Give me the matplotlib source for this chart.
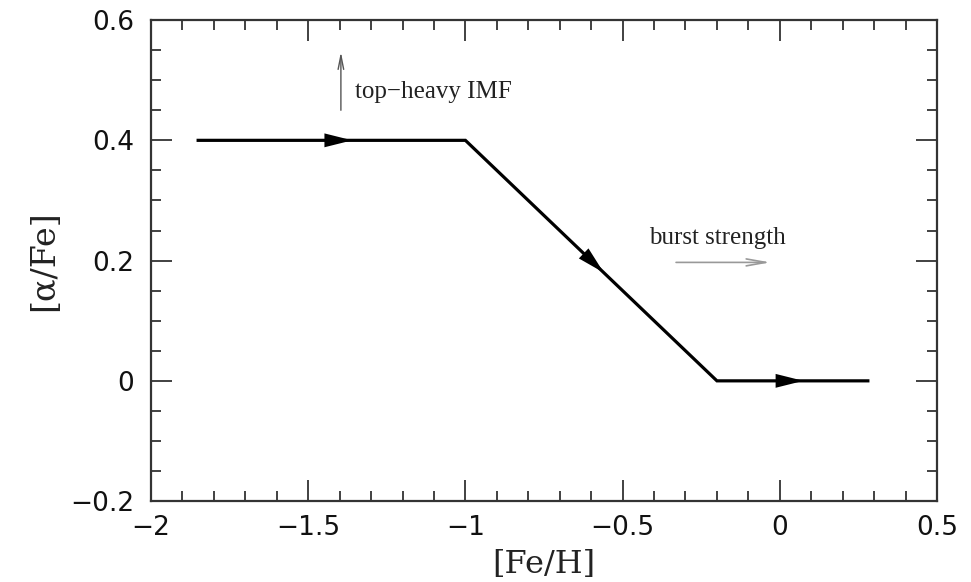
import numpy as np
import matplotlib.pyplot as plt
from matplotlib.ticker import MultipleLocator

# evolution track in [Fe/H] - [alpha/Fe]
track_feh = [-1.85, -1.0, -0.2, 0.28]
track_afe = [0.4, 0.4, 0.0, 0.0]

# positions of the direction arrowheads along the track (tip x)
head_feh = [-1.36, -0.56, 0.075]

# annotation texts
imf_label = "top\u2212heavy IMF"
burst_label = "burst strength"

fig = plt.figure(figsize=(9.71, 5.82), dpi=100)
ax = fig.add_axes([0.1555, 0.139, 0.8095, 0.8265])

ax.plot(track_feh, track_afe, color='black', lw=2.3, solid_joinstyle='miter')


def afe_at(x):
    return float(np.interp(x, track_feh, track_afe))


# filled arrowheads along the track
for xt in head_feh:
    seg = 0.08
    x0 = xt - seg
    ax.annotate('', xy=(xt, afe_at(xt)), xytext=(x0, afe_at(x0)),
                arrowprops=dict(arrowstyle='-|>,head_length=2.0,head_width=0.5',
                                color='black', lw=0, shrinkA=0, shrinkB=0))

# top-heavy IMF arrow
ax.annotate('', xy=(-1.396, 0.547), xytext=(-1.396, 0.45),
            arrowprops=dict(arrowstyle='->,head_length=1.0,head_width=0.2',
                            color='#555555', lw=1.0, shrinkA=0, shrinkB=0))
ax.text(-1.352, 0.48, imf_label, family='Liberation Serif', fontsize=18,
        ha='left', va='center', color='#222222')

# burst strength arrow
ax.annotate('', xy=(-0.03, 0.197), xytext=(-0.33, 0.197),
            arrowprops=dict(arrowstyle='->,head_length=1.4,head_width=0.25',
                            color='#999999', lw=1.2, shrinkA=0, shrinkB=0))
ax.text(-0.2, 0.238, burst_label, family='Liberation Serif', fontsize=18,
        ha='center', va='center', color='#222222')

ax.set_xlim(-2, 0.5)
ax.set_ylim(-0.2, 0.6)
ax.xaxis.set_minor_locator(MultipleLocator(0.1))
ax.yaxis.set_minor_locator(MultipleLocator(0.05))
ax.set_xticks([-2, -1.5, -1, -0.5, 0, 0.5])
ax.set_xticklabels(['\u22122', '\u22121.5', '\u22121', '\u22120.5', '0', '0.5'])
ax.set_yticks([-0.2, 0, 0.2, 0.4, 0.6])
ax.set_yticklabels(['\u22120.2', '0', '0.2', '0.4', '0.6'])

ax.tick_params(which='both', direction='in', top=True, right=True,
               colors='#333333', labelcolor='#111111', labelsize=19)
ax.tick_params(which='major', length=15, width=1.3)
ax.tick_params(which='minor', length=7.5, width=1.3)
ax.xaxis.set_tick_params(pad=10)
ax.yaxis.set_tick_params(pad=12)
for s in ax.spines.values():
    s.set_linewidth(1.6)
    s.set_color('#333333')

ax.set_xlabel('[Fe/H]', family='DejaVu Serif', fontsize=23, labelpad=6,
              color='#222222')
ax.set_ylabel('[\u03b1/Fe]', family='DejaVu Serif', fontsize=24, labelpad=7,
              color='#222222')

fig.savefig('out.png', dpi=100)
